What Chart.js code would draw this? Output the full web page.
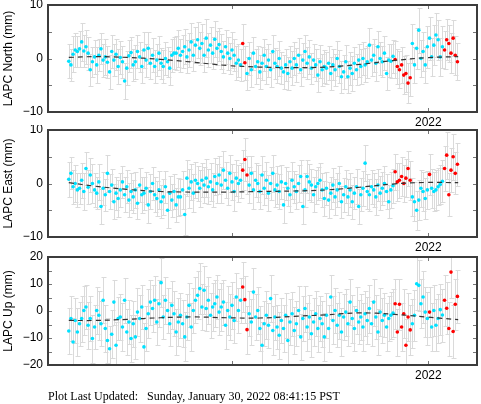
<!DOCTYPE html>
<html>
<head>
<meta charset="utf-8">
<script src="https://cdn.jsdelivr.net/npm/chart.js@4.4.0/dist/chart.umd.min.js"></script>
<style>
  body { margin: 0; background: #fff; width: 481px; height: 404px; position: relative; overflow: hidden; }
  canvas { position: absolute; left: 0; }
  #footer { position: absolute; left: 48px; top: 389px; font: 12px "Liberation Serif", serif; white-space: pre; color: #000; }
</style>
</head>
<body>
<canvas id="north" width="481" height="140" style="top:0px"></canvas>
<canvas id="east" width="481" height="140" style="top:125px"></canvas>
<canvas id="up" width="481" height="140" style="top:250px"></canvas>
<div id="footer">Plot Last Updated:   Sunday, January 30, 2022 08:41:15 PST</div>
<script>
// --- datos (mm), una muestra cada 2 dias desde ~2021.08 ---
const startYear = 2021.083;
const stepYears = 2 / 365.25;

const northValues = [
  -0.5, -1.2, 0.8, 1.6, 1.3, 1.8, 3.1, 1.4, 2.2, 1.0,
  -2.1, -0.6, 0.3, -1.2, 0.6, 1.8, -0.3, 0.3, -0.7, -2.5,
  1.3, -0.3, 0.8, -1.5, 0.2, -0.6, -4.2, -1.8, 0.5, 1.1,
  -1.2, -0.6, 1.3, 0.3, -1.5, 1.6, -0.3, 1.9, -0.9, 0.6,
  -1.5, -0.3, 1.0, -0.9, -1.5, 0.0, -0.6, -1.8, 0.6, 1.0,
  1.0, 1.9, 0.6, 1.3, 2.2, 0.3, 1.6, 3.1, 0.6, 2.5,
  3.5, 1.9, 2.8, 0.6, 3.8, 1.6, 2.5, 1.0, 3.6, 1.9,
  2.6, 1.3, 0.3, 2.2, 1.0, 0.0, 1.6, 0.6, -0.9, -0.3,
  -1.2, 2.8, -0.8, -2.8, 0.0, -2.1, 1.0, -1.5, -0.6, -2.5,
  -0.9, 0.6, -1.5, -0.3, -2.1, 1.3, -0.9, -1.5, 0.0, -1.8,
  -2.5, -1.2, -2.8, -0.6, -1.8, 0.0, -1.2, 0.6, -2.1, -0.3,
  1.3, -0.9, 0.3, -1.8, -0.3, -1.2, -3.1, -0.6, -2.1, -1.5,
  -1.8, -0.9, -2.8, -1.2, -2.1, 0.0, -1.5, -3.4, -2.5, -0.6,
  -3.4, -1.8, -2.8, -0.9, -2.1, -0.3, -1.5, 0.0, -1.2, -0.6,
  2.5, -0.3, 0.6, -0.9, 2.2, 0.0, -0.6, 1.0, -2.8, -0.3,
  -0.5, 0.4, -0.2, -1.5, -2.1, -1.2, -3.1, -2.8, -4.6, -3.6,
  2.8, -1.2, 1.9, 5.3, 0.0, 1.3, -1.2, 2.2, 3.8, 0.3,
  2.5, 4.4, 3.5, 0.3, 2.2, 1.6, 3.5, 2.8, 1.0, 3.8, 0.6, -0.6
];
const northSigma = [
  3.2, 3.0, 3.4, 3.1, 2.9, 3.3, 3.6, 3.0, 3.2, 3.1,
  3.0, 2.8, 3.2, 3.4, 3.0, 2.9, 3.1, 3.3, 3.0, 3.2,
  3.1, 3.0, 2.9, 3.3, 3.1, 3.0, 3.4, 3.2, 3.0, 2.9,
  3.0, 3.2, 3.1, 2.8, 3.0, 3.3, 3.1, 3.0, 2.9, 3.2,
  3.1, 3.0, 3.2, 2.9, 3.1, 3.0, 2.8, 3.2, 3.1, 3.0,
  3.2, 3.4, 3.1, 3.0, 3.3, 3.1, 3.2, 3.5, 3.0, 3.3,
  3.4, 3.1, 3.6, 3.2, 3.5, 3.1, 3.3, 3.0, 3.4, 3.2,
  3.1, 3.3, 3.0, 3.2, 3.1, 2.9, 3.3, 3.0, 3.2, 3.1,
  3.0, 3.6, 3.2, 3.1, 3.0, 3.3, 3.1, 3.2, 3.0, 3.2,
  3.1, 3.0, 3.3, 3.1, 3.2, 3.0, 2.9, 3.1, 3.3, 3.0,
  3.2, 3.0, 3.1, 2.9, 3.2, 3.0, 3.1, 3.3, 3.0, 3.2,
  3.1, 3.0, 3.2, 2.9, 3.1, 3.0, 3.2, 3.1, 3.0, 3.1,
  3.0, 3.2, 3.1, 2.9, 3.0, 3.2, 3.1, 3.0, 3.2, 3.1,
  3.0, 3.1, 3.2, 3.0, 2.9, 3.1, 3.2, 3.0, 3.1, 3.0,
  3.2, 3.0, 3.1, 3.3, 3.0, 3.1, 2.9, 3.2, 3.0, 3.1,
  3.2, 3.1, 3.4, 3.2, 3.5, 3.3, 3.6, 3.4, 3.8, 3.5,
  3.6, 3.3, 3.8, 4.2, 3.5, 3.7, 3.4, 3.9, 4.0, 3.6,
  3.8, 4.1, 3.7, 3.5, 3.9, 3.6, 3.8, 3.5, 3.7, 3.4, 3.6, 3.5
];
const northRapid = [81, 82, 152, 153, 154, 155, 156, 157, 158, 159, 175, 176, 177, 178, 179, 180, 181];

const eastValues = [
  0.8, 1.9, -0.6, 0.0, -1.2, -0.9, 0.6, -1.5, 2.8, -0.7,
  1.6, 0.0, -1.2, -1.8, 0.3, -4.3, -0.9, -2.1, 1.9, -1.5,
  -0.3, -3.4, -1.8, -2.8, -1.2, 0.3, -2.1, -0.6, -3.1, -1.5,
  -2.5, -1.2, -3.7, -0.3, -2.1, -1.8, -0.9, -4.0, -1.5, 0.0,
  -2.1, -2.8, -1.2, -3.4, -2.5, -0.6, -5.0, -1.8, -3.1, -1.5,
  -4.0, -2.5, -2.5, -1.2, -5.8, 1.0, -0.9, 0.3, -1.8, 0.6,
  0.0, -0.9, 0.6, -0.3, 1.0, -0.6, 0.3, -1.2, 1.3, 0.0,
  1.6, -0.3, 2.5, 0.6, -0.9, 1.9, 0.3, -1.5, 1.0, 0.0,
  0.6, 2.5, 4.5, 1.6, -0.3, 1.9, -1.2, 0.6, 0.0, -1.5,
  1.6, -0.9, 0.6, -1.8, 0.0, 1.9, -1.2, -0.3, -1.5, 0.3,
  -4.0, 0.0, -0.9, -2.1, 0.6, -0.6, -1.5, 0.0, 1.3, -4.3,
  -1.2, 1.3, 0.3, -0.3, -2.1, -0.6, 0.0, 0.6, -1.2, -2.8,
  -0.9, -3.1, -1.8, -0.3, -2.5, -1.2, 0.0, -3.4, -2.1, -0.6,
  -2.5, -1.2, -3.4, -1.8, -0.6, -4.3, -2.1, -0.9, 3.8, -1.5,
  -2.1, -0.6, -1.2, -2.5, -0.3, -1.8, -0.9, 0.0, -1.5, -3.4,
  -1.2, -0.4, 2.2, 0.3, 0.6, 1.3, 0.0, 1.0, 2.8, 0.6,
  -2.5, -3.4, -5.0, -3.1, -0.9, -1.5, -2.8, -1.2, 1.7, -0.9,
  -1.5, -1.2, -0.6, -0.2, 0.4, 2.8, 5.3, -2.1, 2.5, 5.0, 1.9, 3.6
];
const eastSigma = [
  3.3, 3.0, 3.2, 3.4, 3.1, 2.9, 3.3, 3.5, 3.0, 3.2,
  3.1, 3.6, 3.2, 3.0, 3.4, 3.3, 3.1, 3.0, 3.5, 3.2,
  3.0, 3.3, 3.1, 3.4, 3.2, 3.0, 3.3, 3.1, 3.2, 3.4,
  3.1, 3.3, 3.0, 3.2, 3.4, 3.1, 3.0, 3.3, 3.2, 3.1,
  3.3, 3.2, 3.5, 3.1, 3.3, 3.0, 3.4, 3.2, 3.1, 3.3,
  3.2, 3.6, 3.3, 3.5, 3.8, 3.4, 3.6, 3.3, 3.5, 3.4,
  3.3, 3.5, 3.2, 3.4, 3.6, 3.3, 3.5, 3.2, 3.4, 3.6,
  3.5, 3.3, 3.6, 3.4, 3.2, 3.5, 3.3, 3.6, 3.4, 3.5,
  3.3, 3.8, 4.0, 3.6, 3.4, 3.3, 3.5, 3.2, 3.4, 3.3,
  3.5, 3.2, 3.4, 3.3, 3.1, 3.4, 3.2, 3.5, 3.3, 3.2,
  3.4, 3.1, 3.3, 3.2, 3.5, 3.0, 3.3, 3.4, 3.1, 3.3,
  3.2, 3.0, 3.4, 3.1, 3.3, 3.2, 3.0, 3.3, 3.1, 3.2,
  3.1, 3.3, 3.0, 3.2, 3.4, 3.1, 3.3, 3.0, 3.2, 3.1,
  3.3, 3.1, 3.2, 3.0, 3.3, 3.2, 3.1, 3.3, 3.4, 3.2,
  3.0, 3.2, 3.1, 3.3, 3.0, 3.2, 3.1, 3.3, 3.2, 3.1,
  3.3, 3.2, 3.4, 3.5, 3.3, 3.6, 3.4, 3.5, 3.3, 3.6,
  3.5, 3.7, 3.6, 3.8, 3.5, 3.7, 3.9, 3.6, 3.8, 3.7,
  3.6, 3.8, 3.5, 3.7, 3.9, 4.2, 4.4, 4.0, 4.1, 4.3, 3.9, 4.0
];
const eastRapid = [81, 82, 83, 152, 153, 154, 155, 156, 157, 158, 159, 168, 175, 176, 177, 178, 179, 180, 181];

const upValues = [
  -7.4, -2.8, -11.5, -3.5, -7.8, -4.7, -2.8, 0.2, 1.5, -5.3,
  -2.8, -10.2, -5.9, 0.2, -1.6, -4.7, 4.0, -6.5, -10.9, -14.0,
  -8.6, 3.3, -12.7, -2.8, -2.2, -5.9, 4.0, -7.8, -4.1, -10.2,
  -4.7, -9.6, -0.4, -2.8, 1.5, -13.3, -6.5, -1.0, 3.3, 0.9,
  4.0, -4.1, 2.7, 10.5, -2.2, 4.0, 0.2, -4.7, 2.1, -1.0,
  -7.8, -4.1, -1.6, -4.7, -9.6, -2.2, 2.1, -5.9, 0.2, 4.0,
  5.8, 8.3, 1.5, 7.7, 0.9, 4.0, -1.6, 1.5, 2.7, 5.2,
  -0.4, 1.5, 3.3, -5.3, 0.2, -2.2, 2.1, -3.5, 5.2, 0.2,
  4.0, 8.9, 4.2, -6.9, -1.0, -4.1, 7.0, -2.2, 0.2, -6.5,
  -12.7, -4.7, -1.6, -5.3, 4.6, -7.2, -2.2, -5.9, -9.0, -3.5,
  -6.5, -1.6, -10.9, -4.1, -1.0, -7.2, -4.7, 0.2, -9.6, -2.8,
  0.9, -5.9, -2.2, -8.4, -4.1, -1.0, -6.5, -2.8, -4.7, -9.6,
  -1.6, -6.5, 5.2, -3.5, 0.2, -5.3, -1.6, -7.8, -2.2, -0.4,
  -4.7, 3.3, -2.8, -6.5, 0.2, -4.1, -2.2, -5.9, -1.0, -3.5,
  0.9, -4.7, 3.3, -2.2, -7.8, -0.4, -3.5, -1.6, -5.9, -2.8,
  -1.6, -0.8, 2.7, -7.8, 2.5, -5.9, -1.0, -12.7, -2.2, -7.0,
  -4.7, -1.6, 10.1, 9.5, 2.7, 5.2, -0.4, -2.8, -0.4, -5.9,
  0.2, -5.3, -2.8, 0.5, -1.5, 4.0, 1.0, -6.5, 14.4, -7.6, 2.5, 5.4
];
const upSigma = [
  8.6, 8.2, 9.0, 8.4, 8.8, 8.1, 8.5, 9.2, 8.3, 8.7,
  8.4, 8.9, 8.2, 8.6, 9.1, 8.3, 8.5, 8.8, 8.2, 8.6,
  8.9, 8.3, 8.7, 8.1, 8.5, 9.0, 8.4, 8.6, 8.2, 8.8,
  8.5, 8.3, 8.9, 8.6, 8.2, 8.7, 8.4, 9.0, 8.3, 8.6,
  8.8, 8.4, 8.6, 9.2, 8.3, 8.7, 8.5, 8.2, 8.9, 8.4,
  8.6, 8.9, 8.3, 8.7, 9.1, 8.5, 8.2, 8.8, 8.4, 8.6,
  8.9, 9.3, 8.5, 8.8, 8.3, 8.7, 8.4, 9.0, 8.6, 8.2,
  8.5, 8.8, 8.3, 8.6, 9.0, 8.4, 8.7, 8.2, 8.9, 8.5,
  8.4, 9.4, 8.7, 8.9, 8.3, 8.6, 9.1, 8.4, 8.8, 8.2,
  8.7, 8.4, 8.9, 8.3, 8.6, 9.0, 8.5, 8.2, 8.8, 8.4,
  8.6, 8.3, 8.9, 8.5, 8.2, 8.7, 8.4, 9.0, 8.6, 8.3,
  8.5, 8.8, 8.2, 8.6, 8.9, 8.4, 8.7, 8.3, 8.5, 9.0,
  8.4, 8.7, 8.3, 8.9, 8.5, 8.2, 8.6, 8.8, 8.4, 8.7,
  8.3, 8.6, 8.9, 8.4, 8.7, 8.2, 8.5, 8.8, 8.3, 8.6,
  8.9, 8.4, 8.7, 8.3, 8.6, 9.0, 8.5, 8.2, 8.8, 8.4,
  8.6, 8.9, 9.2, 8.7, 9.4, 8.8, 9.1, 9.6, 8.9, 9.3,
  9.0, 9.4, 9.8, 9.5, 9.1, 9.6, 9.2, 9.7, 9.4, 9.0,
  9.3, 9.6, 9.1, 9.5, 9.8, 9.4, 9.7, 10.0, 9.6, 9.9, 9.5, 9.8
];
const upRapid = [81, 82, 83, 152, 153, 154, 155, 156, 157, 158, 159, 168, 175, 176, 177, 178, 179, 180, 181];

// modelo (linea discontinua)
const trendYears = [2021.083, 2021.15, 2021.232, 2021.316, 2021.401, 2021.486, 2021.570, 2021.655, 2021.740, 2021.825, 2021.909, 2021.994, 2022.076];
const northTrend = [0.2, 0.35, 0.2, -0.15, -0.7, -1.3, -1.6, -1.7, -1.6, -1.1, -0.4, 0.15, 0.35];
const eastTrend = [0.15, -0.5, -1.1, -1.5, -1.6, -1.6, -1.5, -1.4, -1.2, -0.7, -0.1, 0.2, 0.15];
const upTrend = [-3.5, -3.5, -3.1, -2.5, -2.2, -2.5, -2.6, -2.0, -1.4, -0.7, -1.2, -2.2, -3.2];

const xTicks = [2021.5, 2022];
const xMin = 2021.03, xMax = 2022.124;

const times = northValues.map((_, i) => startYear + i * stepYears);
const FONT = { family: 'Liberation Sans', size: 12 };

function fmt(v) { return v < 0 ? '\u2212' + Math.abs(v) : String(v); }

function gnuplotFrame(values, sigma, minorStep) {
    return {
        id: 'gnuplotFrame',
        beforeDatasetsDraw(chart) {
            const { ctx, chartArea: a, scales: { x, y } } = chart;
            ctx.save();
            ctx.beginPath();
            ctx.rect(a.left, a.top, a.right - a.left, a.bottom - a.top);
            ctx.clip();
            ctx.strokeStyle = '#dadada';
            ctx.lineWidth = 1;
            ctx.beginPath();
            values.forEach((v, i) => {
                const px = Math.round(x.getPixelForValue(times[i])) + 0.5;
                const t = Math.round(y.getPixelForValue(v + sigma[i])) + 0.5;
                const b = Math.round(y.getPixelForValue(v - sigma[i])) + 0.5;
                ctx.moveTo(px, t); ctx.lineTo(px, b);
                ctx.moveTo(px - 2, t); ctx.lineTo(px + 3, t);
                ctx.moveTo(px - 2, b); ctx.lineTo(px + 3, b);
            });
            ctx.stroke();
            ctx.restore();
        },
        afterDraw(chart) {
            const { ctx, chartArea: a, scales: { x, y } } = chart;
            ctx.save();
            // ticks hacia dentro
            ctx.strokeStyle = '#777';
            ctx.lineWidth = 1;
            ctx.beginPath();
            for (let v = y.min + minorStep; v < y.max; v += minorStep) {
                const py = Math.round(y.getPixelForValue(v)) + 0.5;
                ctx.moveTo(a.left, py); ctx.lineTo(a.left + 4, py);
                ctx.moveTo(a.right, py); ctx.lineTo(a.right - 4, py);
            }
            xTicks.forEach(t => {
                const px = Math.round(x.getPixelForValue(t)) + 0.5;
                ctx.moveTo(px, a.top); ctx.lineTo(px, a.top + 4);
                ctx.moveTo(px, a.bottom); ctx.lineTo(px, a.bottom - 4);
            });
            ctx.stroke();
            // marco
            ctx.strokeStyle = '#3c3c3c';
            ctx.lineWidth = 2;
            ctx.strokeRect(a.left, a.top, a.right - a.left, a.bottom - a.top);
            ctx.restore();
        }
    };
}

function makePanel(id, title, values, sigma, rapid, trend, yLim, yLabels, minorStep, padTop, padBottom) {
    const cyan = [], red = [];
    values.forEach((v, i) => (rapid.includes(i) ? red : cyan).push({ x: times[i], y: v }));
    new Chart(document.getElementById(id), {
        type: 'scatter',
        data: {
            datasets: [
                {
                    type: 'line',
                    data: trendYears.map((t, i) => ({ x: t, y: trend[i] })),
                    borderColor: '#333',
                    borderWidth: 1.2,
                    borderDash: [5, 4],
                    pointRadius: 0,
                    tension: 0.4,
                    fill: false
                },
                { data: red, backgroundColor: '#ff0000', borderWidth: 0, pointRadius: 1.8 },
                { data: cyan, backgroundColor: '#00e1ff', borderWidth: 0, pointRadius: 1.8 }
            ]
        },
        options: {
            responsive: false,
            animation: false,
            events: [],
            layout: { padding: { top: padTop, bottom: padBottom, right: 4, left: 0 } },
            plugins: { legend: { display: false }, tooltip: { enabled: false } },
            scales: {
                x: {
                    type: 'linear', min: xMin, max: xMax,
                    grid: { display: false, drawTicks: false },
                    border: { display: false },
                    afterBuildTicks: ax => { ax.ticks = xTicks.map(v => ({ value: v })); },
                    afterFit: ax => { ax.height = 14; ax.paddingLeft = 0; ax.paddingRight = 0; },
                    ticks: {
                        color: '#000', font: FONT, padding: 3, maxRotation: 0, autoSkip: false,
                        callback: v => (v === 2022 ? '2022' : '')
                    }
                },
                y: {
                    min: yLim[0], max: yLim[1],
                    grid: { display: false, drawTicks: false },
                    border: { display: false },
                    afterBuildTicks: ax => { ax.ticks = yLabels.map(v => ({ value: v })); },
                    afterFit: ax => { ax.width = 48; ax.paddingTop = 0; ax.paddingBottom = 0; },
                    ticks: { color: '#000', font: FONT, padding: 5, callback: v => fmt(v) },
                    title: { display: true, text: title, color: '#000', font: FONT, padding: { top: 1, bottom: 0 } }
                }
            }
        },
        plugins: [gnuplotFrame(values, sigma, minorStep)]
    });
}

makePanel('north', 'LAPC North (mm)', northValues, northSigma, northRapid, northTrend, [-10, 10], [-10, 0, 10], 5, 5, 14);
makePanel('east', 'LAPC East (mm)', eastValues, eastSigma, eastRapid, eastTrend, [-10, 10], [-10, 0, 10], 5, 5, 14);
makePanel('up', 'LAPC Up (mm)', upValues, upSigma, upRapid, upTrend, [-20, 20], [-20, -10, 0, 10, 20], 5, 7, 11);
</script>
</body>
</html>
